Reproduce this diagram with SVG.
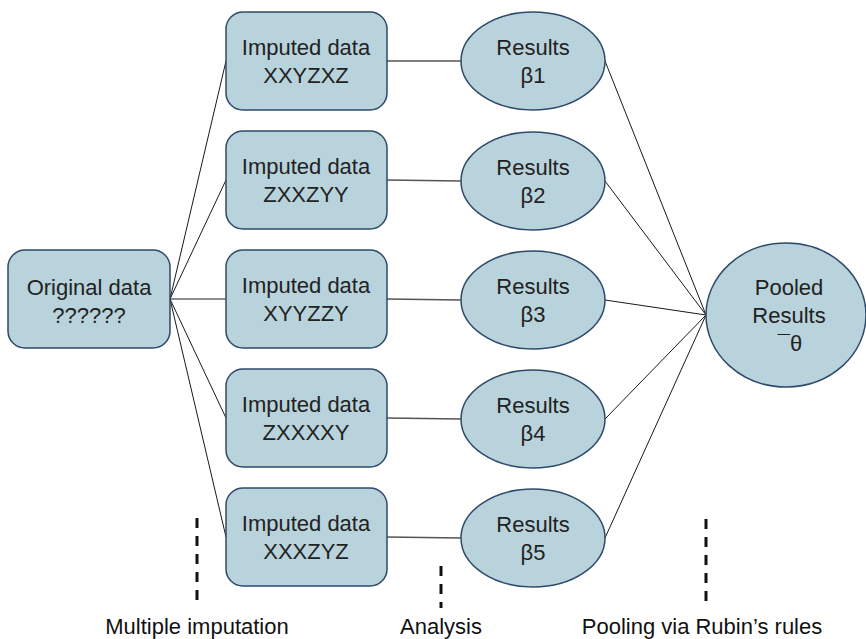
<svg xmlns="http://www.w3.org/2000/svg" width="866" height="639" viewBox="0 0 866 639">
  <style>
    .box { fill: #b9d3dc; stroke: #2e4a6b; stroke-width: 1.5; }
    .link { stroke: #1a1a1a; stroke-width: 1; fill: none; }
    .link2 { stroke: #555; stroke-width: 1.5; fill: none; }
    .dash { stroke: #111; stroke-width: 3; stroke-dasharray: 10 8; fill: none; }
    .t { font-family: "Liberation Sans", Arial, sans-serif; font-size: 22px; fill: #222; text-anchor: middle; }
    .cap { font-family: "Liberation Sans", Arial, sans-serif; font-size: 22px; fill: #111; text-anchor: middle; }
  </style>
  <rect width="866" height="639" fill="#fff"/>

  <g id="connectors">
    <!-- original data to each imputed set -->
    <line class="link" x1="170" y1="299" x2="226" y2="61"/>
    <line class="link" x1="170" y1="299" x2="226" y2="180"/>
    <line class="link" x1="170" y1="299" x2="226" y2="299"/>
    <line class="link" x1="170" y1="299" x2="226" y2="418"/>
    <line class="link" x1="170" y1="299" x2="226" y2="537"/>
    <!-- imputed set to analysis result -->
    <line class="link2" x1="387" y1="61" x2="461" y2="61"/>
    <line class="link2" x1="387" y1="180" x2="461" y2="181"/>
    <line class="link2" x1="387" y1="299" x2="461" y2="300"/>
    <line class="link2" x1="387" y1="418" x2="461" y2="419"/>
    <line class="link2" x1="387" y1="537" x2="461" y2="538"/>
    <!-- results to pooled estimate -->
    <line class="link" x1="605" y1="61" x2="706" y2="315"/>
    <line class="link" x1="605" y1="181" x2="706" y2="315"/>
    <line class="link" x1="605" y1="300" x2="706" y2="315"/>
    <line class="link" x1="605" y1="419" x2="706" y2="315"/>
    <line class="link" x1="605" y1="538" x2="706" y2="315"/>
  </g>

  <g id="original">
    <rect class="box" x="8" y="250" width="162" height="98" rx="17"/>
    <text class="t" x="89" y="295">Original data</text>
    <text class="t" x="89" y="323">??????</text>
  </g>

  <g id="imputed1">
    <rect class="box" x="226" y="12" width="161" height="98" rx="17"/>
    <text class="t" x="306" y="55">Imputed data</text>
    <text class="t" x="306" y="83">XXYZXZ</text>
  </g>
  <g id="imputed2">
    <rect class="box" x="226" y="131" width="161" height="98" rx="17"/>
    <text class="t" x="306" y="174">Imputed data</text>
    <text class="t" x="306" y="202">ZXXZYY</text>
  </g>
  <g id="imputed3">
    <rect class="box" x="226" y="250" width="161" height="98" rx="17"/>
    <text class="t" x="306" y="293">Imputed data</text>
    <text class="t" x="306" y="321">XYYZZY</text>
  </g>
  <g id="imputed4">
    <rect class="box" x="226" y="369" width="161" height="98" rx="17"/>
    <text class="t" x="306" y="412">Imputed data</text>
    <text class="t" x="306" y="440">ZXXXXY</text>
  </g>
  <g id="imputed5">
    <rect class="box" x="226" y="488" width="161" height="98" rx="17"/>
    <text class="t" x="306" y="531">Imputed data</text>
    <text class="t" x="306" y="559">XXXZYZ</text>
  </g>

  <g id="result1">
    <ellipse class="box" cx="533" cy="61" rx="72" ry="49"/>
    <text class="t" x="533" y="55">Results</text>
    <text class="t" x="533" y="83">β1</text>
  </g>
  <g id="result2">
    <ellipse class="box" cx="533" cy="181" rx="72" ry="49"/>
    <text class="t" x="533" y="175">Results</text>
    <text class="t" x="533" y="203">β2</text>
  </g>
  <g id="result3">
    <ellipse class="box" cx="533" cy="300" rx="72" ry="49"/>
    <text class="t" x="533" y="294">Results</text>
    <text class="t" x="533" y="322">β3</text>
  </g>
  <g id="result4">
    <ellipse class="box" cx="533" cy="419" rx="72" ry="49"/>
    <text class="t" x="533" y="413">Results</text>
    <text class="t" x="533" y="441">β4</text>
  </g>
  <g id="result5">
    <ellipse class="box" cx="533" cy="538" rx="72" ry="49"/>
    <text class="t" x="533" y="532">Results</text>
    <text class="t" x="533" y="560">β5</text>
  </g>

  <g id="pooled">
    <ellipse class="box" cx="786" cy="315" rx="80" ry="72"/>
    <text class="t" x="789" y="295">Pooled</text>
    <text class="t" x="789" y="323">Results</text>
    <text class="t" x="790" y="351">¯θ</text>
  </g>

  <g id="stages">
    <line class="dash" x1="197" y1="518" x2="197" y2="608"/>
    <line class="dash" x1="441" y1="566" x2="441" y2="608"/>
    <line class="dash" x1="706" y1="519" x2="706" y2="608"/>
    <text class="cap" x="197" y="634">Multiple imputation</text>
    <text class="cap" x="441" y="634">Analysis</text>
    <text class="cap" x="702" y="634">Pooling via Rubin’s rules</text>
  </g>
</svg>
